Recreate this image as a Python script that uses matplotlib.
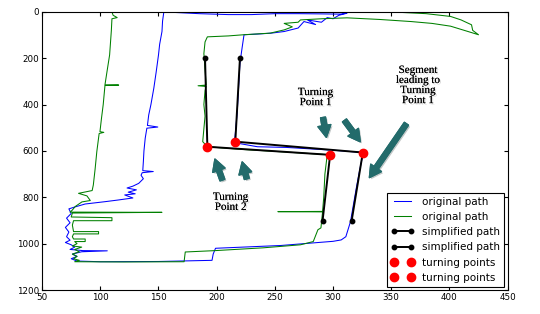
import matplotlib
matplotlib.use("Agg")
import matplotlib.pyplot as plt
import matplotlib.patheffects as pe
from matplotlib.patches import FancyArrowPatch

# ---------------- data ----------------
blue_x = [154.6, 153.5, 153, 151, 150, 148, 146, 143.5, 141.6, 140.5, 149.4, 140, 138.6, 137.5, 137, 136.5,
          145.5, 136, 135, 137, 133, 128, 123, 131, 124, 130, 121, 128, 115, 104, 87, 78, 73, 75, 71, 74, 70,
          73, 71, 74, 70, 75, 78, 74, 85, 106, 84, 76, 80, 75, 80, 100, 150, 196, 197, 199, 255, 300, 307, 311,
          315, 320, 323, 326, 300, 260, 235, 216, 215.5, 217.6, 220, 222, 223.5, 235, 247, 258, 270, 275, 285,
          278, 290, 295, 300, 305, 312, 306, 290, 270, 250, 230, 210, 185, 165, 154.6]
blue_y = [0, 40, 85, 140, 186, 260, 329, 400, 445, 490, 497, 502, 545, 600, 646, 685,
          689, 694, 705, 720, 740, 752, 760, 768, 778, 785, 790, 803, 812, 819, 829, 842, 850, 870, 890, 910, 930,
          950, 970, 985, 995, 1005, 1015, 1025, 1030, 1031, 1035, 1045, 1055, 1065, 1075, 1078, 1077, 1072, 1045, 1020, 1008, 990, 984, 970,
          905, 760, 680, 607, 597, 585, 582, 565, 553, 437, 221, 150, 99, 96, 92, 85, 70, 42, 55,
          35, 45, 25, 30, 15, 6, 10, 9, 8, 8, 12, 12, 8, 3, 0]

green_x = [110, 111, 114.5, 110, 109.5, 108, 106, 104, 115.8, 104, 102.5, 101, 99.7, 103, 99, 97, 95.5, 94,
           93, 81.3, 88.5, 91.4, 84.2, 78.4, 76, 74, 153, 76, 75, 110, 110, 77, 76, 77, 98.5, 98.5, 77, 76,
           77, 87, 87, 78, 80, 76, 84, 78, 82, 76, 80, 77, 82, 78, 120, 172, 173, 199, 240, 272, 283, 287,
           289.6, 291, 252.6, 291, 292, 293, 295, 297.5, 260, 220, 192, 188, 190, 189, 190, 191, 184, 191,
           190, 189, 190, 192, 210, 223, 246, 258, 265, 258, 270, 272, 290, 312, 340, 367, 385, 401, 416,
           425, 420, 419, 410, 401, 380, 356, 300, 200, 110]
green_y = [0, 15, 25, 30, 80, 186, 250, 315, 316, 318, 400, 460, 517, 520, 525, 603, 680, 747,
           771, 783, 794, 814, 820, 840, 855, 864, 865, 868, 885, 888, 901, 901, 920, 948, 948, 958, 958, 970,
           980, 980, 991, 991, 1000, 1010, 1015, 1025, 1035, 1045, 1055, 1065, 1072, 1078, 1079, 1078, 1036, 1030, 1018, 1005, 991, 940,
           932, 863, 862, 861, 800, 700, 617, 617, 605, 593, 582, 560, 450, 400, 340, 322, 319, 316,
           250, 180, 130, 108, 104, 99, 92, 78, 65, 50, 45, 35, 30, 26, 33, 42, 50, 62, 85,
           99, 80, 56, 35, 20, 8, 2, 1, 1, 0]

simp_green_x = [190, 192, 297.5, 291]
simp_green_y = [200, 582, 617, 901]
simp_blue_x = [220, 216, 325.6, 316]
simp_blue_y = [200, 560, 607, 901]

turn_green_x = [192, 297.5]
turn_green_y = [582, 617]
turn_blue_x = [216, 325.6]
turn_blue_y = [560, 607]

x_ticks = [50, 100, 150, 200, 250, 300, 350, 400, 450]
y_ticks = [0, 200, 400, 600, 800, 1000, 1200]

# annotations: (text, text x, text y), arrows: (tail x, tail y, head x, head y)
notes = [("Turning\nPoint 2", 212, 822),
         ("Turning\nPoint 1", 285, 370),
         ("Segment\nleading to\nTurning\nPoint 1", 373, 318)]
arrows = [(205.7, 737, 197.7, 624),
          (226.5, 732, 221.3, 636),
          (291, 444, 294.6, 553),
          (308.4, 459, 324.8, 570),
          (364.4, 473, 329.9, 725)]

# ---------------- figure ----------------
fig = plt.figure(figsize=(5.4, 3.14), dpi=100)
ax = fig.add_axes([0.078, 0.0764, 0.862, 0.886])

ax.plot(blue_x, blue_y, color="#0000ff", lw=0.75, label="original path")
ax.plot(green_x, green_y, color="#008000", lw=0.75, label="original path")
ax.plot(simp_green_x, simp_green_y, "k-", marker="o", ms=3.2, lw=1.4, label="simplified path")
ax.plot(simp_blue_x, simp_blue_y, "k-", marker="o", ms=3.2, lw=1.4, label="simplified path")
ax.plot(turn_green_x, turn_green_y, "o", color="red", mec="red", ms=6, label="turning points")
ax.plot(turn_blue_x, turn_blue_y, "o", color="red", mec="red", ms=6, label="turning points")

ax.set_xlim(50, 450)
ax.set_ylim(1200, 0)
ax.set_xticks(x_ticks)
ax.set_yticks(y_ticks)
ax.tick_params(direction="in", top=True, right=True, length=3, labelsize=6.3, pad=2)
for s in ax.spines.values():
    s.set_linewidth(0.8)

teal = "#236b6b"
for (tx, ty, hx, hy) in arrows:
    arr = FancyArrowPatch((tx, ty), (hx, hy),
                          arrowstyle="simple,head_length=1.0,head_width=1.1,tail_width=0.42",
                          mutation_scale=8.5, color=teal, zorder=5,
                          path_effects=[pe.withSimplePatchShadow(offset=(1.2, -1.2), alpha=0.25), pe.Normal()])
    ax.add_patch(arr)

for (t, x, y) in notes:
    ax.text(x, y, t, family="Liberation Serif", fontsize=8, ha="center", va="center",
            linespacing=1.15, zorder=6,
            path_effects=[pe.withSimplePatchShadow(offset=(1.0, -1.0), shadow_rgbFace="#999999", alpha=0.35),
                          pe.Normal()])

leg = ax.legend(loc="lower right", numpoints=2, fontsize=7.5, handlelength=2.2,
                labelspacing=0.5, borderaxespad=0.3, fancybox=False, framealpha=1)
leg.get_frame().set_edgecolor("black")
leg.get_frame().set_linewidth(0.8)

fig.savefig("out.png", dpi=100)
